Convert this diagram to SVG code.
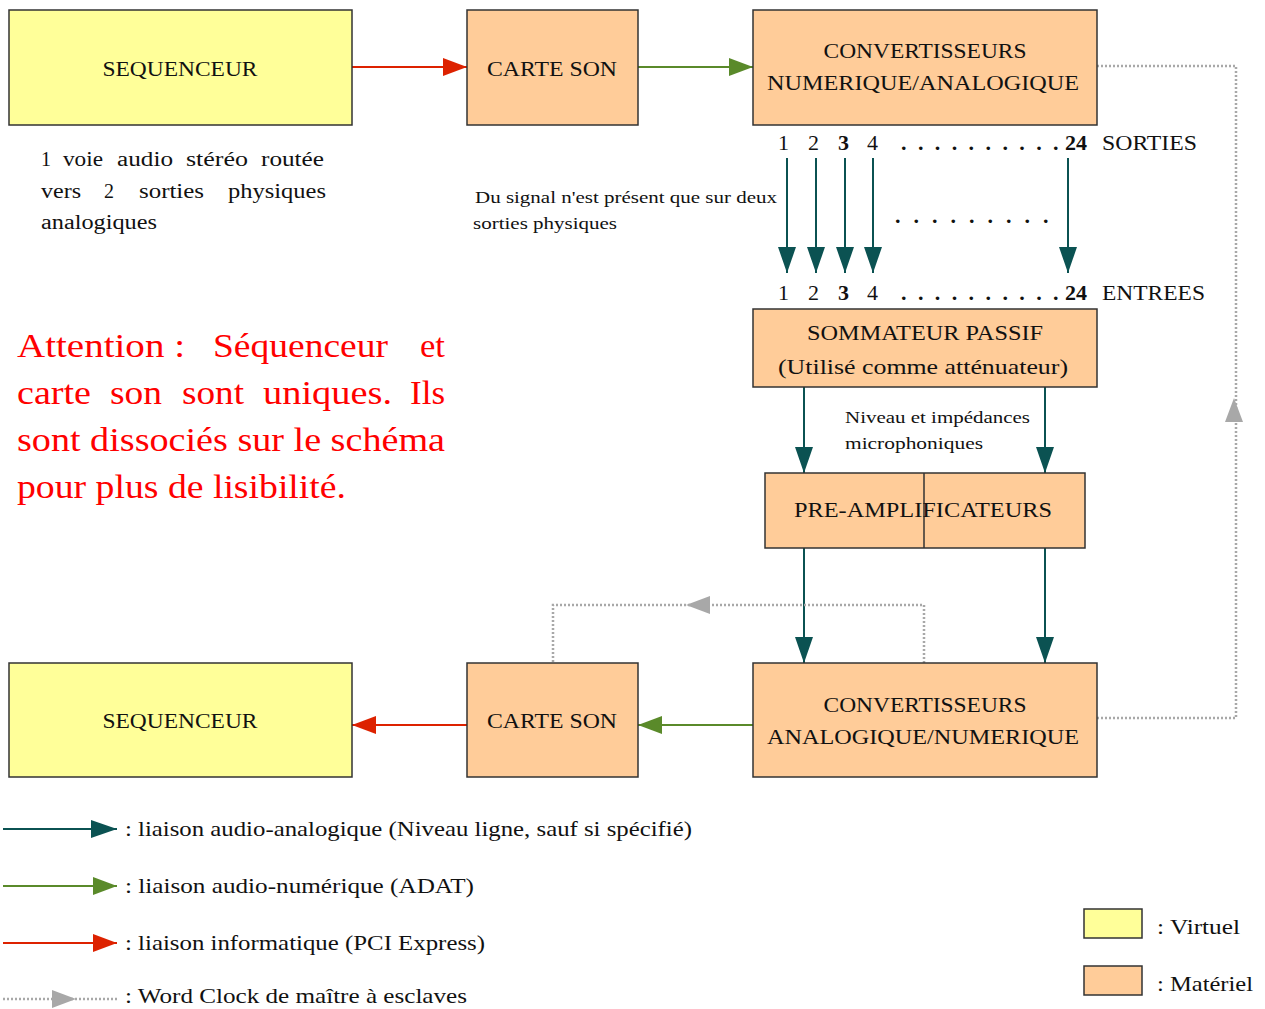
<svg xmlns="http://www.w3.org/2000/svg" width="1265" height="1009" viewBox="0 0 1265 1009">
<style>
text{font-family:"Liberation Serif","DejaVu Serif",serif;fill:#111}
.virt{fill:#ffff99;stroke:#333;stroke-width:1.5}
.mat{fill:#ffcc99;stroke:#333;stroke-width:1.5}
.box{font-size:22px;text-anchor:middle}
.ana{stroke:#0b5252;stroke-width:2;fill:none;marker-end:url(#mAna)}
.num{stroke:#5a8a2a;stroke-width:2;fill:none;marker-end:url(#mNum)}
.pci{stroke:#dd2200;stroke-width:2;fill:none;marker-end:url(#mPci)}
.wc{stroke:#a8a8a8;stroke-width:2.5;stroke-dasharray:2 2;fill:none}
.note{font-size:20px}
.small{font-size:17px}
.red{fill:#ff0000;font-size:33px}
.leg{font-size:21px}
.nums{font-size:22px}
</style>
<defs>
<marker id="mAna" markerUnits="userSpaceOnUse" markerWidth="26" markerHeight="18" refX="26" refY="9" orient="auto"><path d="M0,0 L26,9 L0,18 z" fill="#0b5252"/></marker>
<marker id="mNum" markerUnits="userSpaceOnUse" markerWidth="24" markerHeight="18" refX="24" refY="9" orient="auto"><path d="M0,0 L24,9 L0,18 z" fill="#5a8a2a"/></marker>
<marker id="mPci" markerUnits="userSpaceOnUse" markerWidth="24" markerHeight="18" refX="24" refY="9" orient="auto"><path d="M0,0 L24,9 L0,18 z" fill="#dd2200"/></marker>
<marker id="mWc" markerUnits="userSpaceOnUse" markerWidth="24" markerHeight="18" refX="24" refY="9" orient="auto"><path d="M0,0 L24,9 L0,18 z" fill="#a8a8a8"/></marker>
</defs>
<rect width="1265" height="1009" fill="#fff"/>

<g id="connectors">
<line class="pci" x1="352" y1="67" x2="467" y2="67"/>
<line class="num" x1="638" y1="67" x2="753" y2="67"/>
<line class="ana" x1="787" y1="158" x2="787" y2="273"/>
<line class="ana" x1="816" y1="158" x2="816" y2="273"/>
<line class="ana" x1="845" y1="158" x2="845" y2="273"/>
<line class="ana" x1="873" y1="158" x2="873" y2="273"/>
<line class="ana" x1="1068" y1="158" x2="1068" y2="273"/>
<line class="ana" x1="804" y1="387" x2="804" y2="473"/>
<line class="ana" x1="1045" y1="387" x2="1045" y2="473"/>
<line class="ana" x1="804" y1="548" x2="804" y2="663"/>
<line class="ana" x1="1045" y1="548" x2="1045" y2="663"/>
<line class="num" x1="753" y1="725" x2="638" y2="725"/>
<line class="pci" x1="467" y1="725" x2="352" y2="725"/>
<path class="wc" d="M1097,718 L1236,718 L1236,66 L1097,66"/>
<line x1="1234" y1="425" x2="1234" y2="398" stroke="none" marker-end="url(#mWc)"/>
<path class="wc" d="M924,663 L924,605 L553,605 L553,663"/>
<line x1="712" y1="605" x2="686" y2="605" stroke="none" marker-end="url(#mWc)"/>
</g>

<g id="seq-top"><rect class="virt" x="9" y="10" width="343" height="115"/><text class="box" x="180" y="76" textLength="155" lengthAdjust="spacingAndGlyphs">SEQUENCEUR</text></g>
<g id="carte-top"><rect class="mat" x="467" y="10" width="171" height="115"/><text class="box" x="552" y="76" textLength="130" lengthAdjust="spacingAndGlyphs">CARTE SON</text></g>
<g id="cna"><rect class="mat" x="753" y="10" width="344" height="115"/><text class="box" x="925" y="58" textLength="203" lengthAdjust="spacingAndGlyphs">CONVERTISSEURS</text><text class="box" x="923" y="90" textLength="312" lengthAdjust="spacingAndGlyphs">NUMERIQUE/ANALOGIQUE</text></g>
<g id="sommateur"><rect class="mat" x="753" y="309" width="344" height="78"/><text class="box" x="925" y="340" textLength="236" lengthAdjust="spacingAndGlyphs">SOMMATEUR PASSIF</text><text class="box" x="923" y="374" textLength="290" lengthAdjust="spacingAndGlyphs">(Utilisé comme  atténuateur)</text></g>
<g id="preamp"><rect class="mat" x="765" y="473" width="320" height="75"/><line x1="924" y1="473" x2="924" y2="548" stroke="#333" stroke-width="1.5"/><text class="box" x="923" y="517" textLength="258" lengthAdjust="spacingAndGlyphs">PRE-AMPLIFICATEURS</text></g>
<g id="can"><rect class="mat" x="753" y="663" width="344" height="114"/><text class="box" x="925" y="712" textLength="203" lengthAdjust="spacingAndGlyphs">CONVERTISSEURS</text><text class="box" x="923" y="744" textLength="312" lengthAdjust="spacingAndGlyphs">ANALOGIQUE/NUMERIQUE</text></g>
<g id="carte-bot"><rect class="mat" x="467" y="663" width="171" height="114"/><text class="box" x="552" y="728" textLength="130" lengthAdjust="spacingAndGlyphs">CARTE SON</text></g>
<g id="seq-bot"><rect class="virt" x="9" y="663" width="343" height="114"/><text class="box" x="180" y="728" textLength="155" lengthAdjust="spacingAndGlyphs">SEQUENCEUR</text></g>

<g id="labels">
<text class="nums" y="150"><tspan x="778">1</tspan><tspan x="808">2</tspan><tspan x="838" font-weight="bold">3</tspan><tspan x="867">4</tspan><tspan x="901" font-weight="bold" letter-spacing="11.4">.........</tspan><tspan font-weight="bold">.</tspan></text>
<text class="nums" y="150"><tspan x="1065" font-weight="bold">24</tspan><tspan x="1102" textLength="95" lengthAdjust="spacingAndGlyphs">SORTIES</tspan></text>
<text class="nums" y="223" font-weight="bold"><tspan x="895" letter-spacing="13">........</tspan><tspan>.</tspan></text>
<text class="nums" y="300"><tspan x="778">1</tspan><tspan x="808">2</tspan><tspan x="838" font-weight="bold">3</tspan><tspan x="867">4</tspan><tspan x="901" font-weight="bold" letter-spacing="11.4">.........</tspan><tspan font-weight="bold">.</tspan></text>
<text class="nums" y="300"><tspan x="1065" font-weight="bold">24</tspan><tspan x="1102" textLength="103" lengthAdjust="spacingAndGlyphs">ENTREES</tspan></text>
<text class="note" y="166"><tspan x="41">1</tspan><tspan x="63" textLength="40" lengthAdjust="spacingAndGlyphs">voie</tspan><tspan x="117" textLength="56" lengthAdjust="spacingAndGlyphs">audio</tspan><tspan x="186" textLength="62" lengthAdjust="spacingAndGlyphs">stéréo</tspan><tspan x="261" textLength="63" lengthAdjust="spacingAndGlyphs">routée</tspan></text>
<text class="note" y="198"><tspan x="41" textLength="40" lengthAdjust="spacingAndGlyphs">vers</tspan><tspan x="104">2</tspan><tspan x="139" textLength="65" lengthAdjust="spacingAndGlyphs">sorties</tspan><tspan x="228" textLength="98" lengthAdjust="spacingAndGlyphs">physiques</tspan></text>
<text class="note" x="41" y="229" textLength="116" lengthAdjust="spacingAndGlyphs">analogiques</text>
<text class="small" x="475" y="203" textLength="302" lengthAdjust="spacingAndGlyphs">Du signal n'est présent que sur deux</text>
<text class="small" x="473" y="229" textLength="144" lengthAdjust="spacingAndGlyphs">sorties physiques</text>
<text class="small" x="845" y="423" textLength="185" lengthAdjust="spacingAndGlyphs">Niveau et impédances</text>
<text class="small" x="845" y="449" textLength="138" lengthAdjust="spacingAndGlyphs">microphoniques</text>
<text class="red" y="357"><tspan x="17" textLength="168" lengthAdjust="spacingAndGlyphs">Attention :</tspan><tspan x="213" textLength="175" lengthAdjust="spacingAndGlyphs">Séquenceur</tspan><tspan x="420" textLength="25" lengthAdjust="spacingAndGlyphs">et</tspan></text>
<text class="red" y="404"><tspan x="17" textLength="74" lengthAdjust="spacingAndGlyphs">carte</tspan><tspan x="110" textLength="52" lengthAdjust="spacingAndGlyphs">son</tspan><tspan x="182" textLength="62" lengthAdjust="spacingAndGlyphs">sont</tspan><tspan x="263" textLength="129" lengthAdjust="spacingAndGlyphs">uniques.</tspan><tspan x="410" textLength="35" lengthAdjust="spacingAndGlyphs">Ils</tspan></text>
<text class="red" x="17" y="451" textLength="428" lengthAdjust="spacingAndGlyphs">sont dissociés sur le schéma</text>
<text class="red" x="17" y="498" textLength="329" lengthAdjust="spacingAndGlyphs">pour plus de lisibilité.</text>
</g>

<g id="legend">
<line class="ana" x1="3" y1="829" x2="117" y2="829"/>
<text class="leg" x="125" y="836" textLength="567" lengthAdjust="spacingAndGlyphs">: liaison audio-analogique (Niveau ligne, sauf si spécifié)</text>
<line class="num" x1="3" y1="886" x2="117" y2="886"/>
<text class="leg" x="125" y="893" textLength="349" lengthAdjust="spacingAndGlyphs">: liaison audio-numérique (ADAT)</text>
<line class="pci" x1="3" y1="943" x2="117" y2="943"/>
<text class="leg" x="125" y="950" textLength="360" lengthAdjust="spacingAndGlyphs">: liaison informatique (PCI Express)</text>
<line class="wc" x1="3" y1="999" x2="117" y2="999"/>
<line x1="50" y1="999" x2="76" y2="999" stroke="none" marker-end="url(#mWc)"/>
<text class="leg" x="125" y="1003" textLength="342" lengthAdjust="spacingAndGlyphs">: Word Clock de maître à esclaves</text>
<rect class="virt" x="1084" y="909" width="58" height="29"/>
<text class="leg" x="1157" y="934" textLength="83" lengthAdjust="spacingAndGlyphs">: Virtuel</text>
<rect class="mat" x="1084" y="966" width="58" height="29"/>
<text class="leg" x="1157" y="991" textLength="96" lengthAdjust="spacingAndGlyphs">: Matériel</text>
</g>
</svg>
